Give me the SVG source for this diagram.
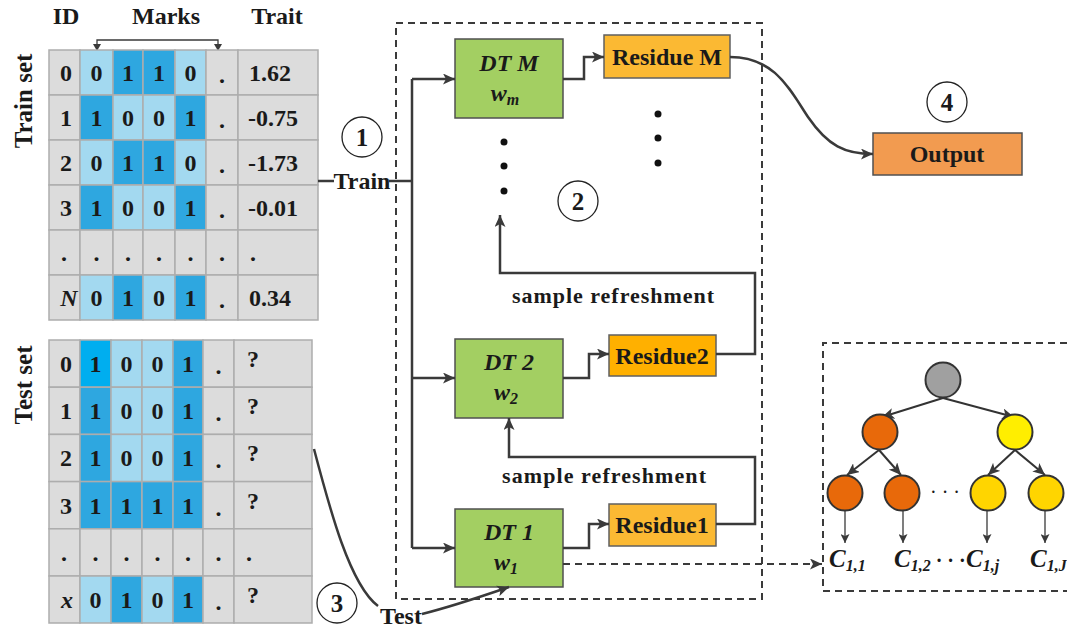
<svg xmlns="http://www.w3.org/2000/svg" width="1067" height="629" viewBox="0 0 1067 629">
<style>
.g{fill:#dcdcdc;stroke:#adadad;stroke-width:1.5}
.lb{fill:#a3d9f0;stroke:#adadad;stroke-width:1.5}
.db{fill:#2ea7e0;stroke:#adadad;stroke-width:1.5}
.bb{fill:#00aeef;stroke:#adadad;stroke-width:1.5}
text{font-family:"Liberation Serif","Times New Roman",serif;font-weight:bold;fill:#1a1a1a}
.c{font-size:24px;text-anchor:middle}
.l{font-size:24px;text-anchor:start}
.it{font-style:italic}
.hd{font-size:24px;text-anchor:middle}
.ln{fill:none;stroke:#3a3a3a;stroke-width:2.5}
.thin{fill:none;stroke:#3a3a3a;stroke-width:1.3}
.dash{fill:none;stroke:#3a3a3a;stroke-width:2;stroke-dasharray:7,5}
.dt{fill:#a3cf62;stroke:#505050;stroke-width:1.5}
.res{fill:#fbb933;stroke:#606060;stroke-width:1.5}
.res2{fill:#ffb000;stroke:#606060;stroke-width:1.5}
.out{fill:#f29b50;stroke:#505050;stroke-width:1.5}
.num{fill:none;stroke:#222;stroke-width:1.3}
.nt{font-size:25px;text-anchor:middle}
.box{font-size:24px;text-anchor:middle}
.tn{stroke:#333;stroke-width:2}
</style>
<defs>
<marker id="ah" markerWidth="12" markerHeight="11" refX="12" refY="5.5" orient="auto" markerUnits="userSpaceOnUse"><path d="M0,0 L12,5.5 L0,11 L3,5.5 Z" fill="#3a3a3a"/></marker>
<marker id="ahs" markerWidth="9" markerHeight="9" refX="9" refY="4.5" orient="auto" markerUnits="userSpaceOnUse"><path d="M0,0 L9,4.5 L0,9 L2,4.5 Z" fill="#3a3a3a"/></marker>
</defs>
<rect width="1067" height="629" fill="#ffffff"/>

<!-- headers -->
<g id="headers">
<text class="hd" x="66" y="24">ID</text>
<text class="hd" x="166" y="24">Marks</text>
<text class="hd" x="277" y="24">Trait</text>
<path class="thin" d="M97,50 L97,40 L218,40 L218,50"/>
<path d="M93,44 L97,51 L101,44 Z" fill="#3a3a3a"/>
<path d="M214,44 L218,51 L222,44 Z" fill="#3a3a3a"/>
<text class="hd" transform="translate(32,101) rotate(-90)" style="font-size:25px">Train set</text>
<text class="hd" transform="translate(32,385) rotate(-90)" style="font-size:25px">Test set</text>
</g>

<!-- train table -->
<g id="train-table">
<rect class="g" x="49" y="50" width="31" height="45"/><rect class="lb" x="80" y="50" width="33" height="45"/><rect class="db" x="113" y="50" width="30" height="45"/><rect class="db" x="143" y="50" width="32" height="45"/><rect class="lb" x="175" y="50" width="31" height="45"/><rect class="g" x="206" y="50" width="32" height="45"/><rect class="g" x="238" y="50" width="80" height="45"/>
<rect class="g" x="49" y="95" width="31" height="45"/><rect class="db" x="80" y="95" width="33" height="45"/><rect class="lb" x="113" y="95" width="30" height="45"/><rect class="lb" x="143" y="95" width="32" height="45"/><rect class="db" x="175" y="95" width="31" height="45"/><rect class="g" x="206" y="95" width="32" height="45"/><rect class="g" x="238" y="95" width="80" height="45"/>
<rect class="g" x="49" y="140" width="31" height="45"/><rect class="lb" x="80" y="140" width="33" height="45"/><rect class="db" x="113" y="140" width="30" height="45"/><rect class="db" x="143" y="140" width="32" height="45"/><rect class="lb" x="175" y="140" width="31" height="45"/><rect class="g" x="206" y="140" width="32" height="45"/><rect class="g" x="238" y="140" width="80" height="45"/>
<rect class="g" x="49" y="185" width="31" height="45"/><rect class="db" x="80" y="185" width="33" height="45"/><rect class="lb" x="113" y="185" width="30" height="45"/><rect class="lb" x="143" y="185" width="32" height="45"/><rect class="db" x="175" y="185" width="31" height="45"/><rect class="g" x="206" y="185" width="32" height="45"/><rect class="g" x="238" y="185" width="80" height="45"/>
<rect class="g" x="49" y="230" width="31" height="45"/><rect class="g" x="80" y="230" width="33" height="45"/><rect class="g" x="113" y="230" width="30" height="45"/><rect class="g" x="143" y="230" width="32" height="45"/><rect class="g" x="175" y="230" width="31" height="45"/><rect class="g" x="206" y="230" width="32" height="45"/><rect class="g" x="238" y="230" width="80" height="45"/>
<rect class="g" x="49" y="275" width="31" height="45"/><rect class="lb" x="80" y="275" width="33" height="45"/><rect class="db" x="113" y="275" width="30" height="45"/><rect class="lb" x="143" y="275" width="32" height="45"/><rect class="db" x="175" y="275" width="31" height="45"/><rect class="g" x="206" y="275" width="32" height="45"/><rect class="g" x="238" y="275" width="80" height="45"/>

<text class="c" x="66" y="81">0</text><text class="c" x="96.5" y="81">0</text><text class="c" x="128" y="81">1</text><text class="c" x="159" y="81">1</text><text class="c" x="190.5" y="81">0</text><text class="c" x="222" y="83">.</text><text class="l" x="249" y="81">1.62</text>
<text class="c" x="66" y="126">1</text><text class="c" x="96.5" y="126">1</text><text class="c" x="128" y="126">0</text><text class="c" x="159" y="126">0</text><text class="c" x="190.5" y="126">1</text><text class="c" x="222" y="128">.</text><text class="l" x="248" y="126">-0.75</text>
<text class="c" x="66" y="171">2</text><text class="c" x="96.5" y="171">0</text><text class="c" x="128" y="171">1</text><text class="c" x="159" y="171">1</text><text class="c" x="190.5" y="171">0</text><text class="c" x="222" y="173">.</text><text class="l" x="248" y="171">-1.73</text>
<text class="c" x="66" y="216">3</text><text class="c" x="96.5" y="216">1</text><text class="c" x="128" y="216">0</text><text class="c" x="159" y="216">0</text><text class="c" x="190.5" y="216">1</text><text class="c" x="222" y="218">.</text><text class="l" x="248" y="216">-0.01</text>
<text class="c" x="64" y="261">.</text><text class="c" x="96.5" y="261">.</text><text class="c" x="128" y="261">.</text><text class="c" x="159" y="261">.</text><text class="c" x="190.5" y="261">.</text><text class="c" x="222" y="261">.</text><text class="l" x="250" y="261">.</text>
<text class="c it" x="69" y="306">N</text><text class="c" x="96.5" y="306">0</text><text class="c" x="128" y="306">1</text><text class="c" x="159" y="306">0</text><text class="c" x="190.5" y="306">1</text><text class="c" x="222" y="308">.</text><text class="l" x="249" y="306">0.34</text>
</g>

<!-- test table -->
<g id="test-table">
<rect class="g" x="49" y="340" width="31" height="47.2"/><rect class="bb" x="80" y="340" width="31" height="47.2"/><rect class="lb" x="111" y="340" width="31" height="47.2"/><rect class="lb" x="142" y="340" width="31" height="47.2"/><rect class="db" x="173" y="340" width="30" height="47.2"/><rect class="g" x="203" y="340" width="31" height="47.2"/><rect class="g" x="234" y="340" width="78" height="47.2"/>
<rect class="g" x="49" y="387.2" width="31" height="47.2"/><rect class="db" x="80" y="387.2" width="31" height="47.2"/><rect class="lb" x="111" y="387.2" width="31" height="47.2"/><rect class="lb" x="142" y="387.2" width="31" height="47.2"/><rect class="db" x="173" y="387.2" width="30" height="47.2"/><rect class="g" x="203" y="387.2" width="31" height="47.2"/><rect class="g" x="234" y="387.2" width="78" height="47.2"/>
<rect class="g" x="49" y="434.4" width="31" height="47.2"/><rect class="db" x="80" y="434.4" width="31" height="47.2"/><rect class="lb" x="111" y="434.4" width="31" height="47.2"/><rect class="lb" x="142" y="434.4" width="31" height="47.2"/><rect class="db" x="173" y="434.4" width="30" height="47.2"/><rect class="g" x="203" y="434.4" width="31" height="47.2"/><rect class="g" x="234" y="434.4" width="78" height="47.2"/>
<rect class="g" x="49" y="481.6" width="31" height="47.2"/><rect class="db" x="80" y="481.6" width="31" height="47.2"/><rect class="db" x="111" y="481.6" width="31" height="47.2"/><rect class="db" x="142" y="481.6" width="31" height="47.2"/><rect class="db" x="173" y="481.6" width="30" height="47.2"/><rect class="g" x="203" y="481.6" width="31" height="47.2"/><rect class="g" x="234" y="481.6" width="78" height="47.2"/>
<rect class="g" x="49" y="528.8" width="31" height="47.2"/><rect class="g" x="80" y="528.8" width="31" height="47.2"/><rect class="g" x="111" y="528.8" width="31" height="47.2"/><rect class="g" x="142" y="528.8" width="31" height="47.2"/><rect class="g" x="173" y="528.8" width="30" height="47.2"/><rect class="g" x="203" y="528.8" width="31" height="47.2"/><rect class="g" x="234" y="528.8" width="78" height="47.2"/>
<rect class="g" x="49" y="576" width="31" height="47"/><rect class="lb" x="80" y="576" width="31" height="47"/><rect class="db" x="111" y="576" width="31" height="47"/><rect class="lb" x="142" y="576" width="31" height="47"/><rect class="db" x="173" y="576" width="30" height="47"/><rect class="g" x="203" y="576" width="31" height="47"/><rect class="g" x="234" y="576" width="78" height="47"/>

<text class="c" x="66" y="372">0</text><text class="c" x="95.5" y="372">1</text><text class="c" x="126.5" y="372">0</text><text class="c" x="157.5" y="372">0</text><text class="c" x="188" y="372">1</text><text class="c" x="218.5" y="374">.</text><text class="l" x="247" y="367">?</text>
<text class="c" x="66" y="419">1</text><text class="c" x="95.5" y="419">1</text><text class="c" x="126.5" y="419">0</text><text class="c" x="157.5" y="419">0</text><text class="c" x="188" y="419">1</text><text class="c" x="218.5" y="421">.</text><text class="l" x="247" y="414">?</text>
<text class="c" x="66" y="466">2</text><text class="c" x="95.5" y="466">1</text><text class="c" x="126.5" y="466">0</text><text class="c" x="157.5" y="466">0</text><text class="c" x="188" y="466">1</text><text class="c" x="218.5" y="468">.</text><text class="l" x="247" y="461">?</text>
<text class="c" x="66" y="514">3</text><text class="c" x="95.5" y="514">1</text><text class="c" x="126.5" y="514">1</text><text class="c" x="157.5" y="514">1</text><text class="c" x="188" y="514">1</text><text class="c" x="218.5" y="516">.</text><text class="l" x="247" y="509">?</text>
<text class="c" x="64" y="561">.</text><text class="c" x="95.5" y="561">.</text><text class="c" x="126.5" y="561">.</text><text class="c" x="157.5" y="561">.</text><text class="c" x="188" y="561">.</text><text class="c" x="218.5" y="561">.</text><text class="l" x="246" y="561">.</text>
<text class="c it" x="67" y="608">x</text><text class="c" x="95.5" y="608">0</text><text class="c" x="126.5" y="608">1</text><text class="c" x="157.5" y="608">0</text><text class="c" x="188" y="608">1</text><text class="c" x="218.5" y="610">.</text><text class="l" x="247" y="603">?</text>
</g>

<!-- dashed ensemble frame -->
<g id="ensemble-frame">
<rect class="dash" x="396" y="23" width="366" height="576"/>
</g>

<!-- nodes -->
<g id="dt-m">
<rect class="dt" x="455" y="39" width="108" height="79"/>
<text class="box it" x="509" y="71">DT M</text>
<text class="box it" x="505" y="101">w<tspan style="font-size:16px" dy="4">m</tspan></text>
</g>
<g id="residue-m">
<rect class="res" x="604" y="35" width="126" height="43"/>
<text class="box" x="667" y="65">Residue M</text>
</g>
<g id="dt-2">
<rect class="dt" x="455" y="339" width="108" height="79"/>
<text class="box it" x="509" y="370">DT 2</text>
<text class="box it" x="506" y="400">w<tspan style="font-size:16px" dy="4">2</tspan></text>
</g>
<g id="residue-2">
<rect class="res2" x="609" y="335" width="107" height="41"/>
<text class="box" x="662" y="364">Residue2</text>
</g>
<g id="dt-1">
<rect class="dt" x="455" y="509" width="108" height="78"/>
<text class="box it" x="509" y="540">DT 1</text>
<text class="box it" x="506" y="570">w<tspan style="font-size:16px" dy="4">1</tspan></text>
</g>
<g id="residue-1">
<rect class="res" x="609" y="504" width="107" height="42"/>
<text class="box" x="662" y="533">Residue1</text>
</g>
<g id="output">
<rect class="out" x="873" y="133" width="149" height="42"/>
<text class="box" x="947" y="162">Output</text>
</g>

<!-- step markers -->
<g id="step-1"><circle class="num" cx="362" cy="137" r="20"/><text class="nt" x="362" y="145.5">1</text></g>
<g id="step-2"><circle class="num" cx="578" cy="201" r="20"/><text class="nt" x="578" y="209.5">2</text></g>
<g id="step-3"><circle class="num" cx="337" cy="603" r="20"/><text class="nt" x="337" y="611.5">3</text></g>
<g id="step-4"><circle class="num" cx="947" cy="102" r="20"/><text class="nt" x="947" y="110.5">4</text></g>

<!-- ellipsis dots -->
<g id="ellipsis" fill="#111">
<circle cx="504" cy="142" r="3.5"/><circle cx="504" cy="166" r="3.5"/><circle cx="504" cy="191" r="3.5"/>
<circle cx="658" cy="114" r="3.5"/><circle cx="658" cy="138" r="3.5"/><circle cx="658" cy="163" r="3.5"/>
</g>

<!-- labels -->
<g id="labels">
<text class="box" x="362" y="189">Train</text>
<text class="box" x="401" y="624">Test</text>
<text style="font-size:22px" x="512" y="303" textLength="202" lengthAdjust="spacing">sample refreshment</text>
<text style="font-size:22px" x="502" y="483" textLength="204" lengthAdjust="spacing">sample refreshment</text>
</g>

<!-- connectors -->
<g id="connectors">
<path class="ln" d="M318,181 L334,181"/>
<path class="ln" d="M389,181 L412,181"/>
<path class="ln" d="M412,79 L412,548"/>
<path class="ln" d="M412,79 L455,79" marker-end="url(#ah)"/>
<path class="ln" d="M412,378 L455,378" marker-end="url(#ah)"/>
<path class="ln" d="M412,548 L455,548" marker-end="url(#ah)"/>
<path class="ln" d="M563,79 L584,79 L584,57 L604,57" marker-end="url(#ah)"/>
<path class="ln" d="M563,378 L589,378 L589,354 L609,354" marker-end="url(#ah)"/>
<path class="ln" d="M563,548 L589,548 L589,524 L609,524" marker-end="url(#ah)"/>
<path class="ln" d="M716,354 L755,354 L755,273 L500,273 L500,215" marker-end="url(#ah)"/>
<path class="ln" d="M716,524 L755,524 L755,457 L509,457 L509,418" marker-end="url(#ah)"/>
<path class="ln" d="M730,57 C775,57 790,90 808,117 C828,146 845,154 873,154" marker-end="url(#ah)"/>
<path class="ln" d="M314,449 C330,510 350,585 378,606"/>
<path class="ln" d="M422,614 C450,607 480,597 509,587" marker-end="url(#ah)"/>
<path class="dash" d="M563,564 L822,564" marker-end="url(#ah)"/>
</g>

<!-- tree panel -->
<g id="tree-frame">
<path class="dash" d="M1067,343 L823,343 L823,591 L1067,591"/>
</g>
<g id="tree-edges">
<path class="tn" d="M943,398 L882,417" marker-end="url(#ah)"/>
<path class="tn" d="M943,398 L1014,417" marker-end="url(#ah)"/>
<path class="tn" d="M879,450 L847,475" marker-end="url(#ah)"/>
<path class="tn" d="M879,450 L901,475" marker-end="url(#ah)"/>
<path class="tn" d="M1015,450 L988,475" marker-end="url(#ah)"/>
<path class="tn" d="M1015,450 L1045,475" marker-end="url(#ah)"/>
<path class="thin" d="M845,511 L845,543" marker-end="url(#ahs)"/>
<path class="thin" d="M903,511 L903,543" marker-end="url(#ahs)"/>
<path class="thin" d="M987,511 L987,543" marker-end="url(#ahs)"/>
<path class="thin" d="M1045,511 L1045,543" marker-end="url(#ahs)"/>
</g>
<g id="tree-root"><circle cx="943" cy="380" r="17.5" fill="#a0a0a0" stroke="#333" stroke-width="2"/></g>
<g id="tree-l"><circle cx="880" cy="432" r="17.5" fill="#e8690a" stroke="#333" stroke-width="2"/></g>
<g id="tree-r"><circle cx="1015" cy="432" r="17.5" fill="#ffee00" stroke="#333" stroke-width="2"/></g>
<g id="tree-ll"><circle cx="845" cy="493" r="17.5" fill="#e8690a" stroke="#333" stroke-width="2"/></g>
<g id="tree-lr"><circle cx="902" cy="493" r="17.5" fill="#e8690a" stroke="#333" stroke-width="2"/></g>
<g id="tree-rl"><circle cx="988" cy="493" r="17.5" fill="#ffd500" stroke="#333" stroke-width="2"/></g>
<g id="tree-rr"><circle cx="1046" cy="493" r="17.5" fill="#ffd500" stroke="#333" stroke-width="2"/></g>
<g id="tree-labels">
<text x="945" y="499" style="font-size:20px;font-weight:normal" text-anchor="middle">· · ·</text>
<text class="it" x="829" y="567" style="font-size:25px">C<tspan style="font-size:16px" dy="4">1,1</tspan></text>
<text class="it" x="894" y="567" style="font-size:25px">C<tspan style="font-size:16px" dy="4">1,2</tspan><tspan dy="-4" style="font-size:20px;font-style:normal"> · · ·</tspan></text>
<text class="it" x="966" y="567" style="font-size:25px">C<tspan style="font-size:16px" dy="4">1,j</tspan></text>
<text class="it" x="1030" y="567" style="font-size:25px">C<tspan style="font-size:16px" dy="4">1,J</tspan></text>
</g>
</svg>
